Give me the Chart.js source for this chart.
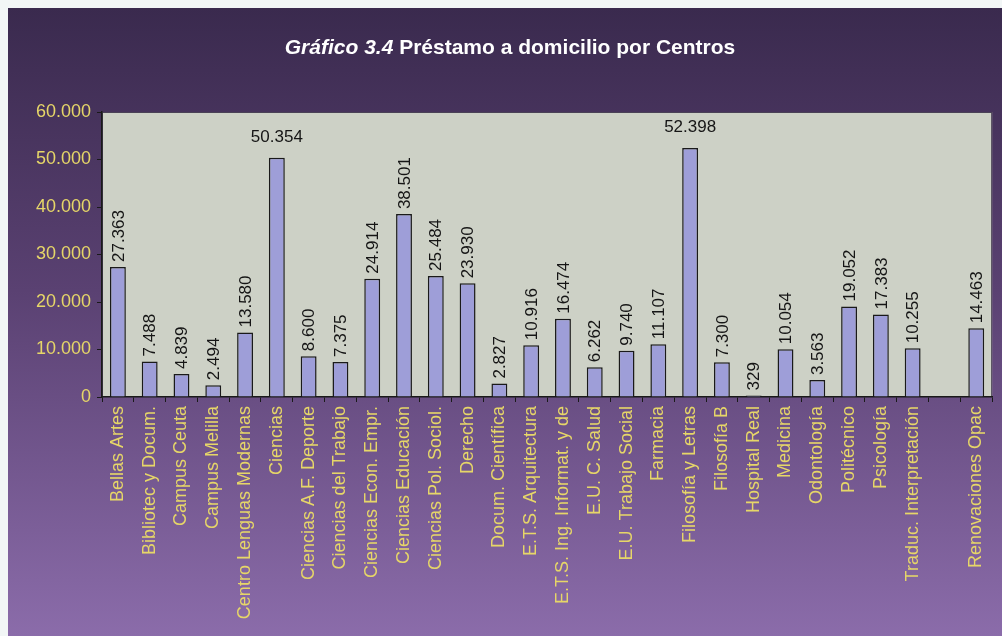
<!DOCTYPE html>
<html>
<head>
<meta charset="utf-8">
<script src="https://cdn.jsdelivr.net/npm/chart.js@4/dist/chart.umd.min.js"></script>
<style>
  body { margin: 0; background: #f2f6f6; }
  #marco {
    position: absolute; left: 8px; top: 8px; width: 994px; height: 628px;
    background: linear-gradient(#3a2a4e, #5a4172 45%, #8b6caa);
  }
</style>
</head>
<body>
<div id="marco"><canvas id="graficoCentros" width="994" height="628"></canvas></div>
<script>
// datos
const centros = ['Bellas Artes', 'Bibliotec y Docum.', 'Campus Ceuta', 'Campus Melilla',
  'Centro Lenguas Modernas', 'Ciencias', 'Ciencias A.F. Deporte', 'Ciencias del Trabajo',
  'Ciencias Econ. Empr.', 'Ciencias Educación', 'Ciencias Pol. Sociol.', 'Derecho',
  'Docum. Científica', 'E.T.S. Arquitectura', 'E.T.S. Ing. Informat. y de', 'E.U. C. Salud',
  'E.U. Trabajo Social', 'Farmacia', 'Filosofía y Letras', 'Filosofía B', 'Hospital Real',
  'Medicina', 'Odontología', 'Politécnico', 'Psicología', 'Traduc. Interpretación', '',
  'Renovaciones Opac'];
const prestamos = [27363, 7488, 4839, 2494, 13580, 50354, 8600, 7375, 24914, 38501, 25484,
  23930, 2827, 10916, 16474, 6262, 9740, 11107, 52398, 7300, 329, 10054, 3563, 19052, 17383,
  10255, null, 14463];
const marcasY = [0, 10000, 20000, 30000, 40000, 50000, 60000];

const amarillo = '#e6d668';
Chart.defaults.font.family = '"Liberation Sans", Arial, sans-serif';

function miles(v) {
  return String(v).replace(/\B(?=(\d{3})+(?!\d))/g, '.');
}

const fondoArea = {
  id: 'fondoArea',
  beforeDraw(chart) {
    const a = chart.chartArea, ctx = chart.ctx;
    ctx.save();
    ctx.fillStyle = '#cdd1c6';
    ctx.fillRect(a.left, a.top, a.right - a.left, a.bottom - a.top);
    ctx.strokeStyle = '#4a4256';
    ctx.lineWidth = 1;
    ctx.strokeRect(a.left + 0.5, a.top + 0.5, a.right - a.left - 1, a.bottom - a.top - 1);
    ctx.restore();
  }
};

const titulo = {
  id: 'titulo',
  afterDraw(chart) {
    const ctx = chart.ctx;
    const parte1 = 'Gráfico 3.4';
    const parte2 = ' Préstamo a domicilio por Centros';
    const f1 = 'italic bold 21px "Liberation Sans", Arial, sans-serif';
    const f2 = 'bold 21px "Liberation Sans", Arial, sans-serif';
    ctx.save();
    ctx.fillStyle = '#ffffff';
    ctx.textBaseline = 'middle';
    ctx.font = f1;
    const w1 = ctx.measureText(parte1).width;
    ctx.font = f2;
    const w2 = ctx.measureText(parte2).width;
    const x = 502 - (w1 + w2) / 2;
    ctx.textAlign = 'left';
    ctx.font = f1;
    ctx.fillText(parte1, x, 40);
    ctx.font = f2;
    ctx.fillText(parte2, x + w1, 40);
    ctx.restore();
  }
};

const etiquetas = {
  id: 'etiquetas',
  afterDatasetsDraw(chart) {
    const ctx = chart.ctx;
    const meta = chart.getDatasetMeta(0);
    ctx.save();
    ctx.font = '17px "Liberation Sans", Arial, sans-serif';
    ctx.fillStyle = '#151515';
    meta.data.forEach((barra, i) => {
      const v = prestamos[i];
      if (v == null) return;
      const txt = miles(v);
      if (v > 45000) {
        ctx.textAlign = 'center';
        ctx.textBaseline = 'bottom';
        ctx.fillText(txt, barra.x, barra.y - 12);
      } else {
        ctx.save();
        ctx.translate(barra.x + 1, barra.y - 5);
        ctx.rotate(-Math.PI / 2);
        ctx.textAlign = 'left';
        ctx.textBaseline = 'middle';
        ctx.fillText(txt, 0, 0);
        ctx.restore();
      }
    });
    ctx.restore();
  }
};

new Chart(document.getElementById('graficoCentros'), {
  type: 'bar',
  data: {
    labels: centros,
    datasets: [{
      label: 'Préstamos',
      data: prestamos,
      backgroundColor: '#9e9ed8',
      borderColor: '#1a1a1a',
      borderWidth: 1.5,
      barPercentage: 0.5,
      categoryPercentage: 1
    }]
  },
  options: {
    responsive: false,
    animation: false,
    layout: { padding: { top: 104, right: 9, left: 0, bottom: 0 } },
    plugins: {
      legend: { display: false },
      tooltip: { enabled: false }
    },
    scales: {
      x: {
        grid: { drawOnChartArea: false, tickLength: 5, color: '#1a1a1a' },
        border: { color: '#1a1a1a', width: 1.5 },
        ticks: {
          color: amarillo,
          font: { size: 18 },
          minRotation: 90,
          maxRotation: 90,
          autoSkip: false,
          padding: 4
        },
        afterFit(scale) { scale.height = 239; }
      },
      y: {
        min: 0,
        max: 60000,
        afterBuildTicks(scale) { scale.ticks = marcasY.map(v => ({ value: v })); },
        grid: { drawOnChartArea: false, tickLength: 5, color: '#1a1a1a' },
        border: { color: '#1a1a1a', width: 1.5 },
        ticks: {
          color: amarillo,
          font: { size: 18 },
          padding: 6,
          callback: v => miles(v)
        },
        afterFit(scale) { scale.width = 94; }
      }
    }
  },
  plugins: [fondoArea, titulo, etiquetas]
});
</script>
</body>
</html>
